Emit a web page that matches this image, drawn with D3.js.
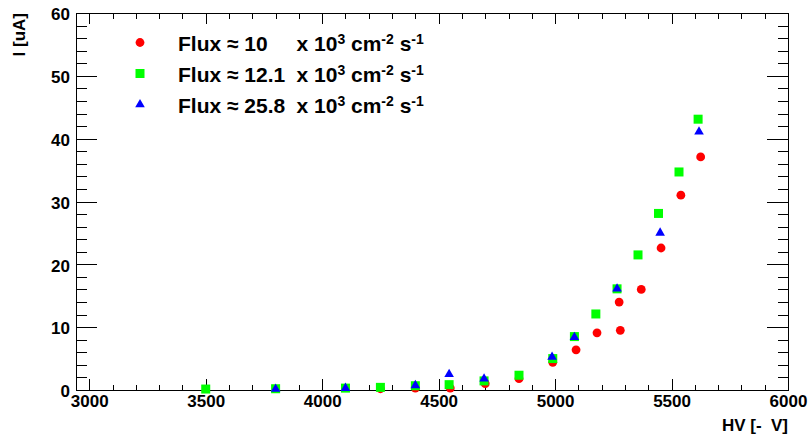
<!DOCTYPE html>
<html>
<head>
<meta charset="utf-8">
<script src="https://cdnjs.cloudflare.com/ajax/libs/d3/7.8.5/d3.min.js"></script>
<style>
	body { margin: 0; background: #fff; }
	svg { display: block; font-family: "Liberation Sans", Arial, Helvetica, sans-serif; font-weight: bold; }
	text { white-space: pre; }
</style>
</head>
<body>
<svg class="plot" width="809" height="434"></svg>
<script>

// data: HV [V] and current I [uA] for each flux
var hv10 = [4250, 4400, 4550, 4700, 4845, 4990, 5090, 5180, 5275, 5280, 5370, 5455, 5540, 5625];
var cur10 = [0.2, 0.3, 0.3, 1.0, 1.8, 4.4, 6.4, 9.1, 14.0, 9.5, 16.0, 22.6, 31.0, 37.1];

var hv12 = [3500, 3800, 4100, 4250, 4400, 4545, 4695, 4845, 4990, 5083, 5175, 5266, 5356, 5444, 5532, 5614];
var cur12 = [0.15, 0.2, 0.3, 0.42, 0.68, 0.85, 1.45, 2.35, 5.0, 8.5, 12.1, 16.1, 21.5, 28.1, 34.7, 43.1];

var hv25 = [3800, 4100, 4400, 4545, 4695, 4987, 5083, 5266, 5451, 5618];
var cur25 = [0.15, 0.3, 0.73, 2.5, 1.8, 5.25, 8.4, 16.1, 25.0, 41.1];

// legend labels (flux values) and tick labels
var fluxLabels = ["10", "12.1", "25.8"];
var xTicks = [3000, 3500, 4000, 4500, 5000, 5500, 6000];
var yTicks = [0, 10, 20, 30, 40, 50, 60];

var svg = d3.select("svg.plot");

// frame edges (avoid "top", it is window.top)
var padL = 76, padR = 788, padT = 13, padB = 390;

var x = d3.scaleLinear().domain([2943, 6000]).range([padL, padR]);
var y = d3.scaleLinear().domain([0, 60]).range([padB, padT]);

var xMinor = d3.range(3000, 6001, 100);
var yMinor = d3.range(0, 61, 2);

// frame
svg.append("rect")
	.attr("x", padL + 0.5)
	.attr("y", padT + 0.5)
	.attr("width", padR - padL)
	.attr("height", padB - padT)
	.attr("fill", "none")
	.attr("stroke", "#000")
	.attr("stroke-width", 1);

// helper to draw inward ticks only
function ticks(axis, pos, values, size) {
	var g = svg.append("g")
		.attr("transform", pos)
		.attr("shape-rendering", "crispEdges")
		.call(axis.tickValues(values).tickSize(-size).tickSizeOuter(0).tickFormat(""));
	g.select(".domain").remove();
	g.selectAll("line").attr("stroke", "#000");
}

ticks(d3.axisBottom(x), "translate(0," + padB + ")", xMinor, 5.5);
ticks(d3.axisBottom(x), "translate(0," + padB + ")", xTicks, 11);
ticks(d3.axisTop(x), "translate(0," + padT + ")", xMinor, 5.5);
ticks(d3.axisTop(x), "translate(0," + padT + ")", xTicks, 11);
ticks(d3.axisLeft(y), "translate(" + padL + ",0)", yMinor, 10.5);
ticks(d3.axisLeft(y), "translate(" + padL + ",0)", yTicks, 21);
ticks(d3.axisRight(y), "translate(" + padR + ",0)", yMinor, 10.5);
ticks(d3.axisRight(y), "translate(" + padR + ",0)", yTicks, 21);

// tick labels
var xLab = svg.append("g")
	.attr("transform", "translate(0," + padB + ")")
	.call(d3.axisBottom(x).tickValues(xTicks).tickFormat(d3.format("d")).tickSize(0).tickPadding(5));
xLab.select(".domain").remove();
xLab.selectAll("text")
	.attr("font-size", 17)
	.attr("font-family", null)
	.attr("fill", "#000");

var yLab = svg.append("g")
	.attr("transform", "translate(" + padL + ",0)")
	.call(d3.axisLeft(y).tickValues(yTicks).tickFormat(d3.format("d")).tickSize(0).tickPadding(6));
yLab.select(".domain").remove();
yLab.selectAll("text")
	.attr("font-size", 17)
	.attr("font-family", null)
	.attr("dy", "0.4em")
	.attr("fill", "#000");

// axis titles
svg.append("text")
	.attr("x", padR)
	.attr("y", 431)
	.attr("text-anchor", "end")
	.attr("font-size", 17)
	.text("HV [-  V]");

svg.append("text")
	.attr("transform", "translate(25," + padT + ") rotate(-90)")
	.attr("text-anchor", "end")
	.attr("font-size", 17)
	.text("I [uA]");

// markers
var series = [
	{hv: hv10, cur: cur10, color: "#ff0000", shape: "circle"},
	{hv: hv12, cur: cur12, color: "#00ff00", shape: "square"},
	{hv: hv25, cur: cur25, color: "#0000ff", shape: "triangle"}
];

var triangle = d3.symbol().type(d3.symbolTriangle).size(40);

function marker(sel, shape, color) {
	if (shape == "circle") {
		sel.append("circle").attr("r", 4.4).attr("fill", color);
	} else if (shape == "square") {
		sel.append("rect").attr("x", -4.5).attr("y", -4.5).attr("width", 9).attr("height", 9).attr("fill", color);
	} else {
		sel.append("path").attr("d", triangle).attr("fill", color);
	}
}

series.forEach(function(s) {
	var pts = s.hv.map(function(v, i) { return [v, s.cur[i]]; });
	svg.append("g")
		.selectAll("g")
		.data(pts)
		.enter()
		.append("g")
		.attr("transform", function(d) { return "translate(" + x(d[0]) + "," + y(d[1]) + ")"; })
		.each(function() { marker(d3.select(this), s.shape, s.color); });
});

// legend
var legend = svg.append("g");
series.forEach(function(s, i) {
	var base = 50.5 + i * 31;
	var m = legend.append("g").attr("transform", "translate(140," + (base - 8) + ")");
	marker(m, s.shape, s.color);

	legend.append("text")
		.attr("x", 178)
		.attr("y", base)
		.attr("font-size", 21)
		.text("Flux \u2248 " + fluxLabels[i]);

	var t = legend.append("text")
		.attr("x", 296.5)
		.attr("y", base)
		.attr("font-size", 21);
	t.append("tspan").text("x 10");
	t.append("tspan").attr("font-size", 14).attr("dy", -7).text("3");
	t.append("tspan").attr("dy", 7).text(" cm");
	t.append("tspan").attr("font-size", 14).attr("dy", -7).text("-2");
	t.append("tspan").attr("dy", 7).text(" s");
	t.append("tspan").attr("font-size", 14).attr("dy", -7).text("-1");
});

</script>
</body>
</html>
